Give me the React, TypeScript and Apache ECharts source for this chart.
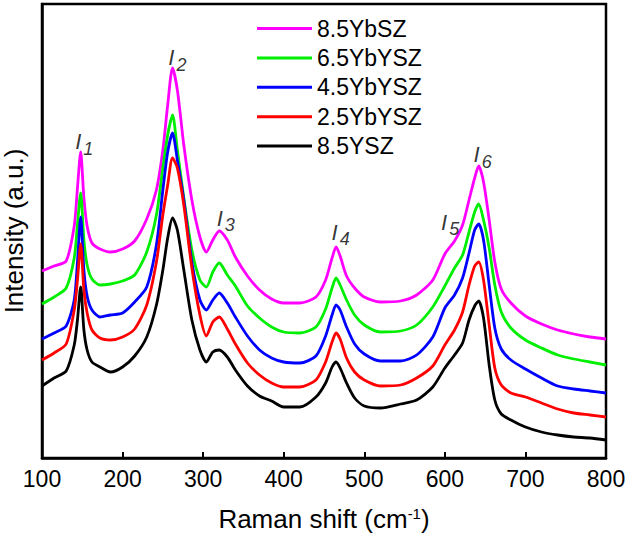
import React, { useEffect, useRef } from "react";
import * as echarts from "echarts";

// Raman shift grid (cm-1)
const ramanShift = [100, 115, 130, 140, 144, 148, 152, 156, 162, 172, 185, 200, 215, 230, 242, 250, 256, 262, 268, 276, 286, 296, 304, 312, 320, 330, 340, 355, 370, 385, 400, 420, 440, 452, 460, 465, 470, 478, 488, 500, 520, 545, 565, 585, 600, 612, 622, 630, 637, 642, 648, 655, 662, 670, 682, 700, 720, 740, 760, 780, 800];

const s85YbSZ = [187, 192, 197, 232, 270, 306, 260, 232, 215, 209, 206, 209, 217, 239, 268, 308, 353, 390, 368, 313, 258, 221, 206, 218, 227, 218, 201, 182, 168, 159, 155, 155, 161, 178, 200, 211, 202, 182, 170, 161, 156, 157, 163, 178, 204, 217, 233, 258, 280, 292, 276, 238, 196, 169, 155, 142, 134, 128, 124, 121, 119];
const s65YbYSZ = [154, 161, 170, 200, 233, 265, 218, 193, 179, 173, 174, 177, 183, 206, 243, 290, 323, 343, 308, 260, 208, 178, 171, 186, 195, 183, 172, 152, 140, 131, 126, 125, 131, 149, 170, 180, 173, 158, 143, 133, 126, 127, 133, 151, 172, 190, 203, 226, 246, 254, 238, 210, 173, 146, 130, 118, 110, 103, 99, 96, 93];
const s45YbYSZ = [119, 125, 132, 158, 196, 241, 188, 162, 148, 141, 143, 145, 156, 171, 213, 268, 306, 325, 298, 258, 196, 158, 148, 158, 165, 155, 141, 122, 108, 100, 96, 95, 102, 122, 143, 153, 148, 131, 114, 104, 97, 97, 103, 121, 150, 163, 180, 205, 228, 234, 218, 173, 130, 109, 98, 89, 80, 72, 69, 67, 65];
const s25YbYSZ = [98, 105, 114, 148, 178, 214, 168, 145, 128, 120, 118, 121, 129, 153, 196, 243, 273, 300, 290, 253, 190, 143, 122, 136, 141, 129, 114, 95, 83, 75, 71, 71, 78, 96, 116, 125, 119, 100, 86, 78, 72, 73, 80, 92, 113, 128, 146, 173, 192, 196, 178, 133, 90, 73, 65, 61, 55, 49, 45, 43, 41];
const s85YSZ = [72, 80, 87, 113, 138, 171, 128, 108, 96, 91, 86, 91, 102, 121, 153, 188, 220, 240, 228, 188, 138, 108, 96, 106, 108, 101, 88, 72, 62, 57, 51, 51, 61, 75, 91, 96, 90, 75, 60, 52, 50, 54, 58, 71, 90, 103, 115, 138, 152, 157, 140, 93, 58, 44, 38, 31, 26, 23, 21, 20, 18];

const seriesNames = ["8.5YbSZ", "6.5YbYSZ", "4.5YbYSZ", "2.5YbYSZ", "8.5YSZ"];
const seriesColors = ["#ff00ff", "#00ee00", "#0000ff", "#ff0000", "#000000"];
const seriesValues = [s85YbSZ, s65YbYSZ, s45YbYSZ, s25YbYSZ, s85YSZ];

// peak annotation labels (position in data coordinates)
const peakIndex = ["1", "2", "3", "4", "5", "6"];
const peakLabelX = [152.5, 268, 328, 470.7, 606.6, 646.9];
const peakLabelY = [317.5, 401.5, 241, 227, 237, 304.5];

const xTicks = [100, 200, 300, 400, 500, 600, 700, 800];

const FONT = "'Liberation Sans', Arial, Helvetica, sans-serif";

export default function App() {
  const ref = useRef<HTMLDivElement>(null);
  useEffect(() => {
    if (!ref.current) return;
    const chart = echarts.init(ref.current, undefined, { renderer: "svg" });
    const lineSeries = seriesNames.map((name, k) => ({
      name,
      type: "line",
      data: ramanShift.map((x, i) => [x, seriesValues[k][i]]),
      showSymbol: false,
      smooth: 0.25,
      lineStyle: { color: seriesColors[k], width: 2.8 },
      itemStyle: { color: seriesColors[k] },
      z: 2,
    }));
    const labelSeries = {
      name: "peaks",
      type: "scatter",
      symbolSize: 0,
      silent: true,
      data: peakLabelX.map((x, i) => [x, peakLabelY[i]]),
      label: {
        show: true,
        position: "inside",
        formatter: (p: any) => `{i|I}{s|${peakIndex[p.dataIndex]}}`,
        rich: {
          i: { fontSize: 22, fontStyle: "italic", fontFamily: FONT, color: "#000", lineHeight: 20, verticalAlign: "top", padding: [0, 2, 0, 0] },
          s: { fontSize: 18, fontStyle: "italic", fontFamily: FONT, color: "#000", lineHeight: 18, padding: [9, 0, 0, 0], verticalAlign: "top" },
        },
      },
      z: 5,
    };
    chart.setOption({
      animation: false,
      backgroundColor: "#fff",
      grid: { left: 42, right: 23, top: 4, bottom: 80, show: true, borderColor: "#000", borderWidth: 2.5, backgroundColor: "transparent", outerBoundsMode: "none", containLabel: false },
      legend: {
        data: seriesNames.map((n) => ({ name: n, icon: "rect" })),
        orient: "vertical",
        left: 252,
        top: 12,
        itemWidth: 55,
        itemHeight: 3,
        itemGap: 6.4,
        textStyle: { fontSize: 23, fontFamily: FONT, color: "#000", lineHeight: 23 },
      },
      xAxis: {
        type: "value",
        min: 100,
        max: 800,
        interval: 100,
        name: "Raman shift (cm{sup|-1})",
        nameLocation: "middle",
        nameGap: 48,
        nameTextStyle: {
          fontSize: 26,
          fontFamily: FONT,
          color: "#000",
          rich: { sup: { fontSize: 15, fontFamily: FONT, color: "#000", lineHeight: 15, padding: [0, 0, 12, 0], verticalAlign: "top" } },
        },
        axisLine: { show: true, onZero: false, lineStyle: { color: "#000", width: 2.5 } },
        axisTick: { show: true, inside: true, length: 6, lineStyle: { color: "#000", width: 2 } },
        axisLabel: { fontSize: 23, fontFamily: FONT, color: "#000", margin: 9, formatter: (v: number) => (xTicks.includes(v) ? String(v) : "") },
        splitLine: { show: false },
      },
      yAxis: {
        type: "value",
        min: 0,
        max: 454,
        name: "Intensity (a.u.)",
        nameLocation: "middle",
        nameGap: 17,
        nameTextStyle: { fontSize: 26, fontFamily: FONT, color: "#000", lineHeight: 22 },
        axisLine: { show: true, lineStyle: { color: "#000", width: 2.5 } },
        axisTick: { show: false },
        axisLabel: { show: false },
        splitLine: { show: false },
      },
      series: [...lineSeries, labelSeries],
    });
    return () => chart.dispose();
  }, []);
  return <div ref={ref} style={{ width: 629, height: 538, position: "absolute", left: 0, top: 0 }} />;
}
